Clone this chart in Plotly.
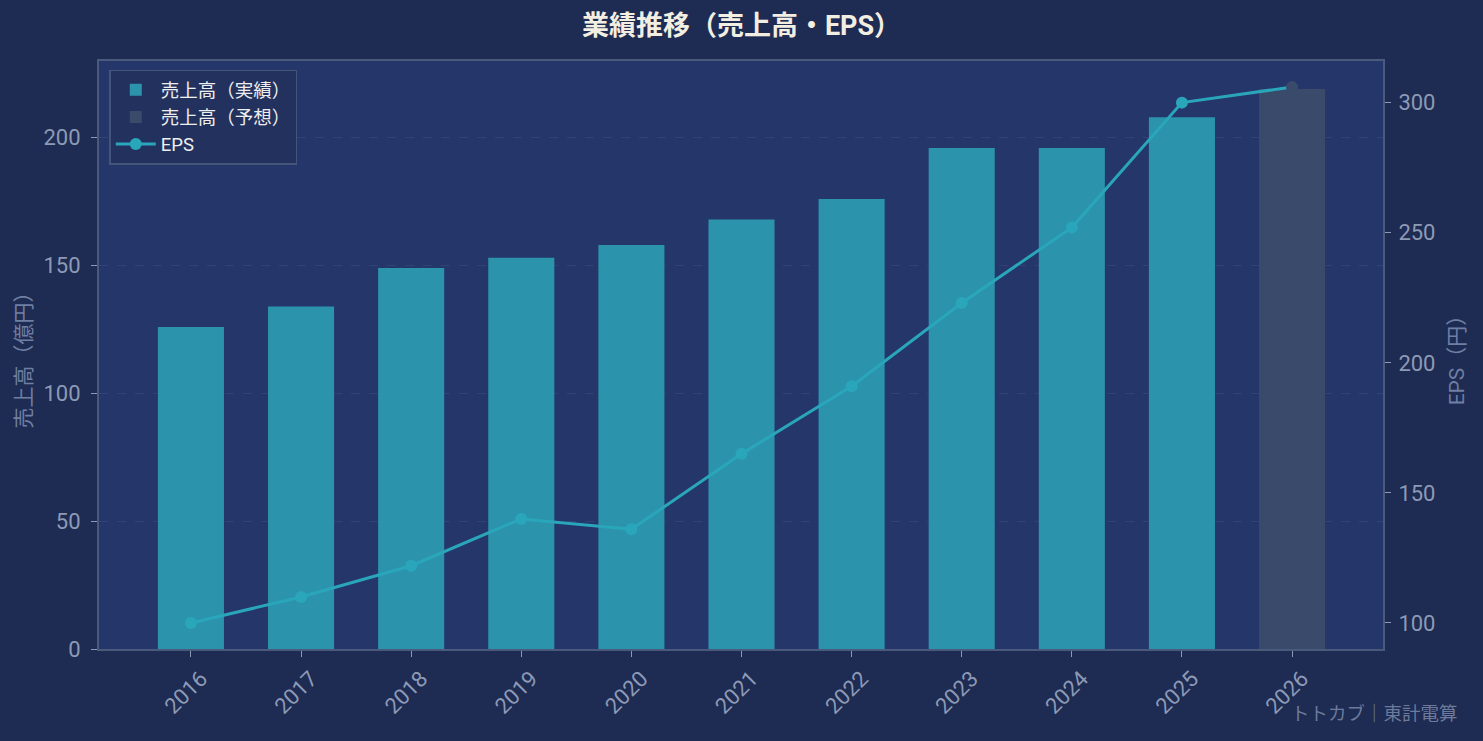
import plotly.graph_objects as go

years = ["2016", "2017", "2018", "2019", "2020", "2021", "2022", "2023", "2024", "2025", "2026"]
sales = [126, 134, 149, 153, 158, 168, 176, 196, 196, 208, 219]  # 億円
sales_forecast = [False] * 10 + [True]
eps = [100, 110, 122, 140, 136, 165, 191, 223, 252, 300, 306]  # 円

actual_color = "#2c93ad"
forecast_color = "#3a4a6b"
line_color = "#2aa6bb"

act_x = [y for y, f in zip(years, sales_forecast) if not f]
act_y = [v for v, f in zip(sales, sales_forecast) if not f]
fc_x = [y for y, f in zip(years, sales_forecast) if f]
fc_y = [v for v, f in zip(sales, sales_forecast) if f]

fig = go.Figure()
fig.add_trace(go.Bar(x=act_x, y=act_y, name="売上高（実績）",
                     marker=dict(color=actual_color, line=dict(width=0)), width=0.6))
fig.add_trace(go.Bar(x=fc_x, y=fc_y, name="売上高（予想）",
                     marker=dict(color=forecast_color, line=dict(width=0)), width=0.6))
fig.add_trace(go.Scatter(x=years, y=eps, name="EPS", yaxis="y2", mode="lines+markers",
                         line=dict(color=line_color, width=3),
                         marker=dict(size=12, color=[forecast_color if f else line_color for f in sales_forecast])))

tick_font = dict(color="#8d9ab6", size=22)
fig.update_layout(
    width=1483, height=741,
    paper_bgcolor="#1e2b52",
    plot_bgcolor="#24366a",
    font=dict(family="Roboto, 'Noto Sans CJK JP', sans-serif", color="#8d9ab6"),
    title=dict(text="<b>業績推移（売上高・EPS）</b>", x=0.5, xanchor="center",
               y=0.965, yanchor="middle", font=dict(size=27, color="#f2eee2")),
    margin=dict(l=99, r=100, t=61, b=92),
    barmode="overlay",
    showlegend=True,
    legend=dict(x=0.008, y=0.985, xanchor="left", yanchor="top",
                bgcolor="#23315e", bordercolor="#45557a", borderwidth=1.5,
                font=dict(size=18.5, color="#eeeeee"), tracegroupgap=0, itemwidth=40),
    xaxis=dict(type="category", range=[-0.835, 10.826], tickangle=-45,
               tickfont=tick_font, ticks="outside", ticklen=6, tickcolor="#8d9ab6",
               ticklabelshift=10,
               showline=True, linecolor="#4a5a7c", linewidth=2, mirror=True, showgrid=False),
    yaxis=dict(title=dict(text="売上高（億円）", font=dict(size=21, color="#6f7fa3"), standoff=6),
               range=[0, 230], tickvals=[0, 50, 100, 150, 200], tickfont=tick_font,
               ticks="outside", ticklen=6, tickcolor="#8d9ab6", ticklabelstandoff=6,
               showline=True, linecolor="#4a5a7c", linewidth=2,
               gridcolor="rgba(120,135,170,0.16)", griddash="dash", zeroline=False),
    yaxis2=dict(title=dict(text="EPS（円）", font=dict(size=21, color="#6f7fa3")),
                overlaying="y", side="right", range=[90, 316],
                tickvals=[100, 150, 200, 250, 300], tickfont=tick_font,
                ticks="outside", ticklen=6, tickcolor="#8d9ab6", ticklabelstandoff=3,
                showline=True, linecolor="#4a5a7c", linewidth=2,
                showgrid=False, zeroline=False),
)

fig.add_annotation(text="トトカブ｜東計電算", xref="paper", yref="paper",
                   x=1.06, y=-0.11, xanchor="right", yanchor="middle",
                   showarrow=False, font=dict(size=18.5, color="#6c7a9c"))

fig.write_html("out.html", config={"displayModeBar": False},
               post_script="document.body.style.margin='0';")
